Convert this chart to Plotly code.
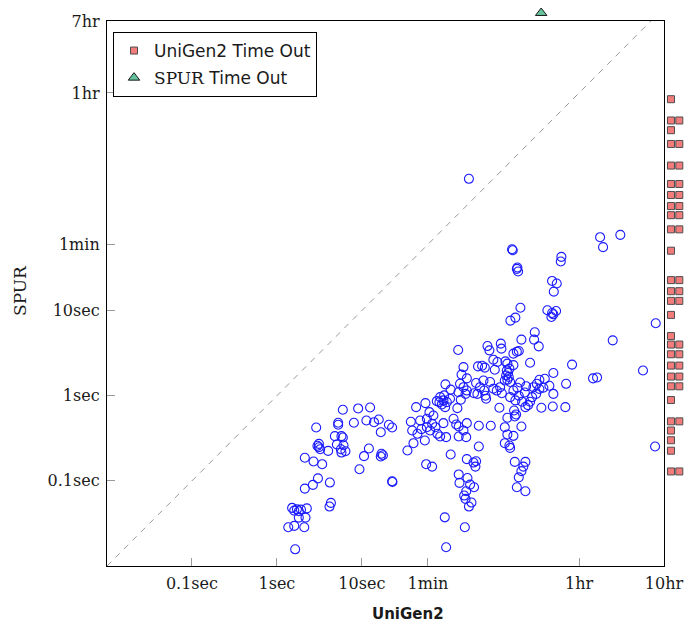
import math
import plotly.graph_objects as go

# ---------------- data (seconds) ----------------
# solved instances: UniGen2 time vs SPUR time
unigen2_sec = [
    5.97, 9.04, 12.5, 2.90, 5.26, 5.26, 8.05, 11.3, 13.9, 15.8, 20.8, 22.7, 16.7, 4.81, 5.75, 5.97,
    5.08, 3.12, 3.12, 3.23, 3.0, 4.01, 5.66, 6.41, 5.75, 6.08, 12.1, 10.6, 17.0, 16.7, 17.7, 2.13,
    2.70, 3.41, 9.37, 3.04, 2.65, 2.13, 4.20, 22.7, 22.9, 4.32, 4.16, 1.51, 1.72, 1.92, 2.25, 1.60,
    1.81, 2.17, 1.81, 1.36, 1.60, 2.10, 1.64,
    43.5, 56.0, 76.2, 83.4, 91.2, 87.3, 100, 95.5, 109, 81.8, 93.0, 62.4, 69.5, 58.2, 48.5, 37.7,
    67.1, 73.5, 58.2, 50.3, 39.1, 45.1, 63.6, 77.5, 83.4, 98.1, 91.2, 120, 133, 146, 129, 138,
    172, 157, 138, 169, 238, 329, 238, 40.5, 34.4, 55.1, 111, 57.1, 67.1, 172, 206, 217,
    221, 138, 175, 141, 188, 209, 169, 160, 166, 195, 182, 631, 841, 796, 755, 703,
    667, 841, 94.6, 163, 98.1,
    1084, 1064, 1208, 755, 301, 317, 432, 439, 136, 608, 667, 703, 955, 2979, 353, 394,
    489, 516, 608, 157, 233, 260, 280, 367, 508, 526, 499, 536, 516, 556, 481, 545,
    1795, 1422, 1229, 1145, 2534, 1611, 149, 172, 96.3, 143, 157, 137, 172, 166, 111, 221,
    246, 270, 275, 323, 229, 209, 290, 285, 353, 387, 424, 444, 608, 677, 728, 857,
    828, 703, 556, 641, 769, 1045, 1229, 1368, 1125, 1009, 904, 841, 955, 1795, 1297, 1766,
    2484, 416, 619, 653, 631, 516, 755, 481, 516, 608, 481, 545, 556,
    182, 6368, 11020, 6902, 586, 597, 2230, 2193, 677, 690, 667, 1734, 1968, 1815, 735, 641,
    560, 1526, 1734, 1932, 1702, 1795, 28770, 8970, 5866, 5260, 20370, 28250,
]
spur_sec = [
    0.684, 0.709, 0.728, 0.424, 0.481, 0.456, 0.481, 0.512, 0.489, 0.526, 0.456, 0.424, 0.373, 0.335, 0.335, 0.323,
    0.267, 0.272, 0.248, 0.235, 0.258, 0.225, 0.235, 0.223, 0.215, 0.262, 0.240, 0.195, 0.208, 0.193, 0.200, 0.187,
    0.169, 0.157, 0.137, 0.107, 0.0897, 0.0811, 0.0955, 0.099, 0.097, 0.0551, 0.0499, 0.0481, 0.0463, 0.0459, 0.0475, 0.0447,
    0.0439, 0.037, 0.037, 0.0285, 0.0296, 0.0285, 0.0157,
    0.734, 0.818, 0.863, 0.963, 0.881, 0.790, 0.841, 0.734, 0.922, 0.841, 1.01, 0.641, 0.586, 0.536, 0.512, 0.494,
    0.469, 0.427, 0.427, 0.405, 0.391, 0.357, 0.391, 0.357, 0.332, 0.326, 0.476, 0.536, 0.715, 0.897, 0.459, 0.435,
    0.476, 0.391, 0.332, 0.326, 0.444, 0.444, 0.253, 0.277, 0.227, 0.298, 0.204, 0.157, 0.147, 0.180, 0.164, 0.147,
    0.170, 0.119, 0.108, 0.0947, 0.0904, 0.0841, 0.0755, 0.0672, 0.0614, 0.0556, 0.0499, 0.167, 0.167, 0.147, 0.130, 0.110,
    0.0841, 0.0755, 0.0373, 0.0285, 0.0166,
    5.56, 4.56, 3.80, 4.56, 3.83, 3.41, 4.09, 3.57, 3.44, 3.12, 3.29, 3.35, 2.44, 2.32, 2.65, 2.49,
    2.53, 2.38, 2.29, 2.17, 2.21, 2.25, 2.14, 2.02, 1.98, 1.85, 1.73, 1.66, 1.54, 1.45, 1.51, 2.08,
    1.85, 1.58, 1.54, 1.38, 1.38, 1.31, 1.77, 1.60, 1.36, 1.38, 1.26, 1.10, 1.15, 1.05, 1.18, 1.41,
    1.26, 1.51, 1.15, 1.45, 1.05, 1.07, 0.922, 1.0, 1.21, 1.15, 1.26, 1.07, 1.15, 1.24, 1.43, 1.29,
    1.09, 1.0, 0.963, 0.881, 0.85, 1.26, 1.20, 1.24, 1.05, 0.963, 0.775, 0.734, 0.85, 1.05, 0.722, 0.748,
    0.734, 0.722, 0.671, 0.603, 0.571, 0.551, 0.435, 0.427, 0.351, 0.338, 0.277, 0.260, 0.244,
    353, 72.8, 77.5, 55.6, 52.6, 51.2, 42.7, 37.7, 32.1, 28.8, 30.9, 22.3, 20.8, 16.7, 10.8, 8.27,
    7.63, 10.1, 9.37, 9.89, 8.41, 9.04, 7.09, 4.47, 1.64, 1.60, 1.98, 0.253,
]

# UniGen2 time-outs: SPUR time of each row and how many instances share it
unigen2_to_spur_sec = [3040, 1710, 1315, 906, 505, 307, 228, 169, 132, 90, 50.5, 22.8, 16.9, 13.0,
                       8.9, 5.02, 3.99, 3.07, 2.26, 1.68, 1.29, 0.89, 0.50, 0.39, 0.30, 0.226, 0.129]
unigen2_to_count = [1, 2, 1, 2, 3, 3, 2, 2, 3, 3, 1, 3, 3, 3,
                    1, 1, 2, 3, 3, 3, 3, 1, 3, 1, 1, 1, 2]
unigen2_to_x_sec = [43500, 54500, 68000]   # stacked time-out columns

# SPUR time-outs
spur_to_unigen2_sec = [1290]
spur_to_y_sec = [31300]

# axes
x_range_sec = [0.01, 36000]
y_range_sec = [0.01, 25200]
x_tick_vals = [0.1, 1, 10, 60, 3600, 36000]
x_tick_text = ["0.1sec", "1sec", "10sec", "1min", "1hr", "10hr"]
y_tick_vals = [0.1, 1, 10, 60, 3600, 25200]
y_tick_text = ["0.1sec", "1sec", "10sec", "1min", "1hr", "7hr"]

# ---------------- layout geometry (pixels) ----------------
W, H = 686, 624
ML, MB = 107, 58                 # left / bottom margins
PLOT_W, PLOT_H = 557, 545        # main frame size
REG_W, REG_H = W - ML, H - MB    # region incl. out-of-frame strips

xlo, xhi = math.log10(x_range_sec[0]), math.log10(x_range_sec[1])
ylo, yhi = math.log10(y_range_sec[0]), math.log10(y_range_sec[1])
x_dpp = (xhi - xlo) / PLOT_W
y_dpp = (yhi - ylo) / PLOT_H

to_x, to_y = [], []
for yv, c in zip(unigen2_to_spur_sec, unigen2_to_count):
    for k in range(c):
        to_x.append(unigen2_to_x_sec[k])
        to_y.append(yv)

fig = go.Figure()

diag = [max(x_range_sec[0], y_range_sec[0]), min(x_range_sec[1], y_range_sec[1])]
fig.add_trace(go.Scatter(
    x=diag, y=diag, mode="lines", showlegend=False, hoverinfo="skip",
    line=dict(color="#9a9a9a", width=1, dash="6px,6px"),
))

fig.add_trace(go.Scatter(
    x=unigen2_sec, y=spur_sec, mode="markers", showlegend=False,
    marker=dict(symbol="circle-open", size=9, color="#1a1aff", line=dict(width=1.1, color="#1a1aff")),
))

fig.add_trace(go.Scatter(
    x=to_x, y=to_y, mode="markers", name="UniGen2 Time Out", legendgroup="a",
    xaxis="x2", yaxis="y", cliponaxis=False,
    marker=dict(symbol="square", size=7, color="#F27C7C", line=dict(width=1, color="#4d4d4d")),
))

fig.add_trace(go.Scatter(
    x=spur_to_unigen2_sec, y=spur_to_y_sec, mode="markers",
    name='<span style="font-family:DejaVu Serif">SPUR</span> Time Out', legendgroup="b",
    xaxis="x", yaxis="y2", cliponaxis=False,
    marker=dict(symbol="triangle-up", size=10, color="#66C29C", line=dict(width=1, color="#1a1a1a")),
))

axis_common = dict(
    type="log", showgrid=False, zeroline=False, automargin=False,
    showline=True, linecolor="black", linewidth=1.2, mirror=True,
    ticks="inside", ticklen=8, tickwidth=1, tickcolor="#9a9a9a",
    tickfont=dict(family="DejaVu Serif", size=16, color="#1a1a1a"),
)

fig.update_layout(
    xaxis=dict(domain=[0, PLOT_W / REG_W], anchor="y", range=[xlo, xhi],
               tickmode="array", tickvals=x_tick_vals, ticktext=x_tick_text,
               ticklabelstandoff=3, **axis_common),
    yaxis=dict(domain=[0, PLOT_H / REG_H], anchor="x", range=[ylo, yhi],
               tickmode="array", tickvals=y_tick_vals, ticktext=y_tick_text,
               ticklabelstandoff=3, **axis_common),
    xaxis2=dict(type="log", domain=[PLOT_W / REG_W, 1], anchor="y", visible=False,
                range=[xhi, xhi + (REG_W - PLOT_W) * x_dpp]),
    yaxis2=dict(type="log", domain=[PLOT_H / REG_H, 1], anchor="x", visible=False,
                range=[yhi, yhi + (REG_H - PLOT_H) * y_dpp]),
)

fig.add_annotation(
    text="<b>UniGen2</b>", xref="paper", yref="paper", x=(408 - ML) / REG_W, y=-48 / REG_H,
    showarrow=False, font=dict(family="DejaVu Sans", size=15, color="#1a1a1a"),
    xanchor="center", yanchor="middle",
)
fig.add_annotation(
    text="SPUR", xref="paper", yref="paper", x=(20 - ML) / REG_W, y=(REG_H - 291) / REG_H,
    textangle=-90, showarrow=False, font=dict(family="DejaVu Serif", size=17, color="#1a1a1a"),
    xanchor="center", yanchor="middle",
)

fig.update_layout(
    width=W, height=H, autosize=False,
    margin=dict(l=ML, r=0, t=0, b=MB, pad=0),
    plot_bgcolor="white", paper_bgcolor="white",
    legend=dict(
        x=(113 - ML) / REG_W, y=(REG_H - 32) / REG_H, xanchor="left", yanchor="top",
        bgcolor="white", bordercolor="black", borderwidth=1,
        font=dict(family="DejaVu Sans", size=17, color="#1a1a1a"),
        tracegroupgap=2, itemwidth=30,
    ),
)

fig.write_html(
    "out.html",
    config={"displayModeBar": False},
    post_script="document.body.style.margin='0px';document.body.style.padding='0px';",
)
